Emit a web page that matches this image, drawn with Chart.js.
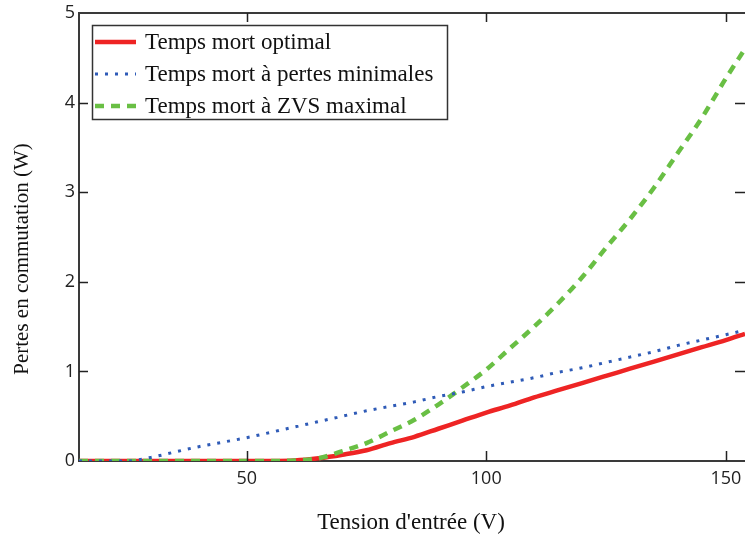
<!DOCTYPE html>
<html>
<head>
<meta charset="utf-8">
<script src="https://cdn.jsdelivr.net/npm/chart.js@4/dist/chart.umd.min.js"></script>
<style>
  html, body { margin: 0; padding: 0; background: #fff; }
  #wrap { width: 745px; height: 539px; }
</style>
</head>
<body>
<div id="wrap"><canvas id="lossChart"></canvas></div>
<script>
// input voltage (V)
const voltages = [15, 20, 25, 30, 35, 40, 45, 50, 55, 60, 65, 70, 75, 80, 85, 90, 95, 100,
  105, 110, 115, 120, 125, 130, 135, 140, 145, 150, 154];

// switching losses (W)
const optimal = [0, 0, 0, 0, 0, 0, 0, 0, 0, 0.005, 0.03, 0.07, 0.12, 0.2, 0.27, 0.36, 0.45, 0.54,
  0.62, 0.71, 0.79, 0.87, 0.95, 1.03, 1.11, 1.19, 1.27, 1.35, 1.42];
const minLosses = [0, 0, 0, 0.04, 0.1, 0.16, 0.21, 0.26, 0.32, 0.38, 0.44, 0.5, 0.56, 0.61, 0.66, 0.72, 0.77, 0.83,
  0.88, 0.93, 0.99, 1.04, 1.1, 1.16, 1.22, 1.29, 1.35, 1.41, 1.46];
const maxZvs = [0, 0, 0, 0, 0, 0, 0, 0, 0, 0.005, 0.03, 0.11, 0.2, 0.33, 0.46, 0.63, 0.82, 1.02,
  1.26, 1.5, 1.76, 2.05, 2.38, 2.7, 3.05, 3.44, 3.83, 4.27, 4.6];

const xTicks = [50, 100, 150];
const seriesNames = ['Temps mort optimal', 'Temps mort à pertes minimales', 'Temps mort à ZVS maximal'];

const toPoints = arr => voltages.map((v, i) => ({ x: v, y: arr[i] }));

const RED = '#ee2424';
const BLUE = '#2f5bb7';
const GREEN = '#69bf44';
const SERIF = '23px "Liberation Serif", serif';

// frame, inward ticks, titles and boxed legend (like the original plot)
const framePlugin = {
  id: 'frame',
  afterDraw(chart) {
    const { ctx, chartArea: a, scales } = chart;
    ctx.save();
    ctx.strokeStyle = '#3a3a3a';
    ctx.lineWidth = 2;
    ctx.beginPath();
    ctx.moveTo(a.left, a.top);
    ctx.lineTo(a.right, a.top);
    ctx.stroke();

    ctx.lineWidth = 1.5;
    ctx.strokeStyle = '#222';
    ctx.beginPath();
    xTicks.forEach(v => {
      const px = Math.round(scales.x.getPixelForValue(v)) + 0.5;
      ctx.moveTo(px, a.bottom); ctx.lineTo(px, a.bottom - 10);
      ctx.moveTo(px, a.top); ctx.lineTo(px, a.top + 9);
    });
    [1, 2, 3, 4].forEach(v => {
      const py = Math.round(scales.y.getPixelForValue(v)) + 0.5;
      ctx.moveTo(a.left, py); ctx.lineTo(a.left + 9, py);
      ctx.moveTo(a.right, py); ctx.lineTo(a.right - 10, py);
    });
    ctx.stroke();

    // axis titles
    ctx.fillStyle = '#111';
    ctx.font = SERIF;
    ctx.textAlign = 'center';
    ctx.textBaseline = 'middle';
    ctx.fillText("Tension d'entrée (V)", 411, 523);
    ctx.save();
    ctx.translate(22, 259);
    ctx.rotate(-Math.PI / 2);
    ctx.font = '21px "Liberation Serif", serif';
    ctx.fillText('Pertes en commutation (W)', 0, 0);
    ctx.restore();

    // legend
    const box = { l: 92, t: 25, r: 447, b: 119 };
    ctx.fillStyle = '#fff';
    ctx.fillRect(box.l, box.t, box.r - box.l, box.b - box.t);
    ctx.strokeStyle = '#333';
    ctx.lineWidth = 1.5;
    ctx.strokeRect(box.l + 0.5, box.t + 0.5, box.r - box.l, box.b - box.t);

    ctx.textAlign = 'left';
    ctx.font = SERIF;
    chart.data.datasets.forEach((ds, i) => {
      const y = 42 + i * 32;
      ctx.save();
      ctx.strokeStyle = ds.borderColor;
      ctx.lineWidth = ds.borderWidth;
      ctx.lineCap = 'butt';
      ctx.setLineDash(ds.borderDash || []);
      ctx.beginPath();
      ctx.moveTo(95, y);
      ctx.lineTo(136, y);
      ctx.stroke();
      ctx.restore();
      ctx.fillStyle = '#111';
      ctx.fillText(seriesNames[i], 145, y + 1);
    });
    ctx.restore();
  }
};

new Chart(document.getElementById('lossChart'), {
  type: 'line',
  data: {
    datasets: [
      {
        label: seriesNames[0],
        data: toPoints(optimal),
        borderColor: RED,
        borderWidth: 4.5,
        pointRadius: 0,
        cubicInterpolationMode: 'monotone',
        order: 3
      },
      {
        label: seriesNames[1],
        data: toPoints(minLosses),
        borderColor: BLUE,
        borderWidth: 3,
        borderDash: [3, 7],
        pointRadius: 0,
        cubicInterpolationMode: 'monotone',
        order: 1
      },
      {
        label: seriesNames[2],
        data: toPoints(maxZvs),
        borderColor: GREEN,
        borderWidth: 4.5,
        borderDash: [9, 7],
        pointRadius: 0,
        cubicInterpolationMode: 'monotone',
        order: 2
      }
    ]
  },
  options: {
    responsive: true,
    maintainAspectRatio: false,
    animation: false,
    layout: { padding: { top: 13, right: 0, left: 0, bottom: 0 } },
    plugins: {
      legend: { display: false },
      tooltip: { enabled: false }
    },
    scales: {
      x: {
        type: 'linear',
        min: 15,
        max: 154,
        afterBuildTicks: s => { s.ticks = xTicks.map(v => ({ value: v })); },
        afterFit: s => { s.height = 78; s.paddingLeft = 0; s.paddingRight = 0; },
        grid: { display: false, drawTicks: false },
        border: { display: true, color: '#3a3a3a', width: 2 },
        ticks: {
          padding: 7,
          color: '#222',
          font: { family: '"Open Sans", sans-serif', size: 18 }
        }
      },
      y: {
        min: 0,
        max: 5,
        afterFit: s => { s.width = 79; s.paddingTop = 0; s.paddingBottom = 0; },
        grid: { display: false, drawTicks: false },
        border: { display: true, color: '#3a3a3a', width: 2 },
        ticks: {
          stepSize: 1,
          padding: 4,
          color: '#222',
          font: { family: '"Open Sans", sans-serif', size: 18 }
        }
      }
    }
  },
  plugins: [framePlugin]
});
</script>
</body>
</html>
